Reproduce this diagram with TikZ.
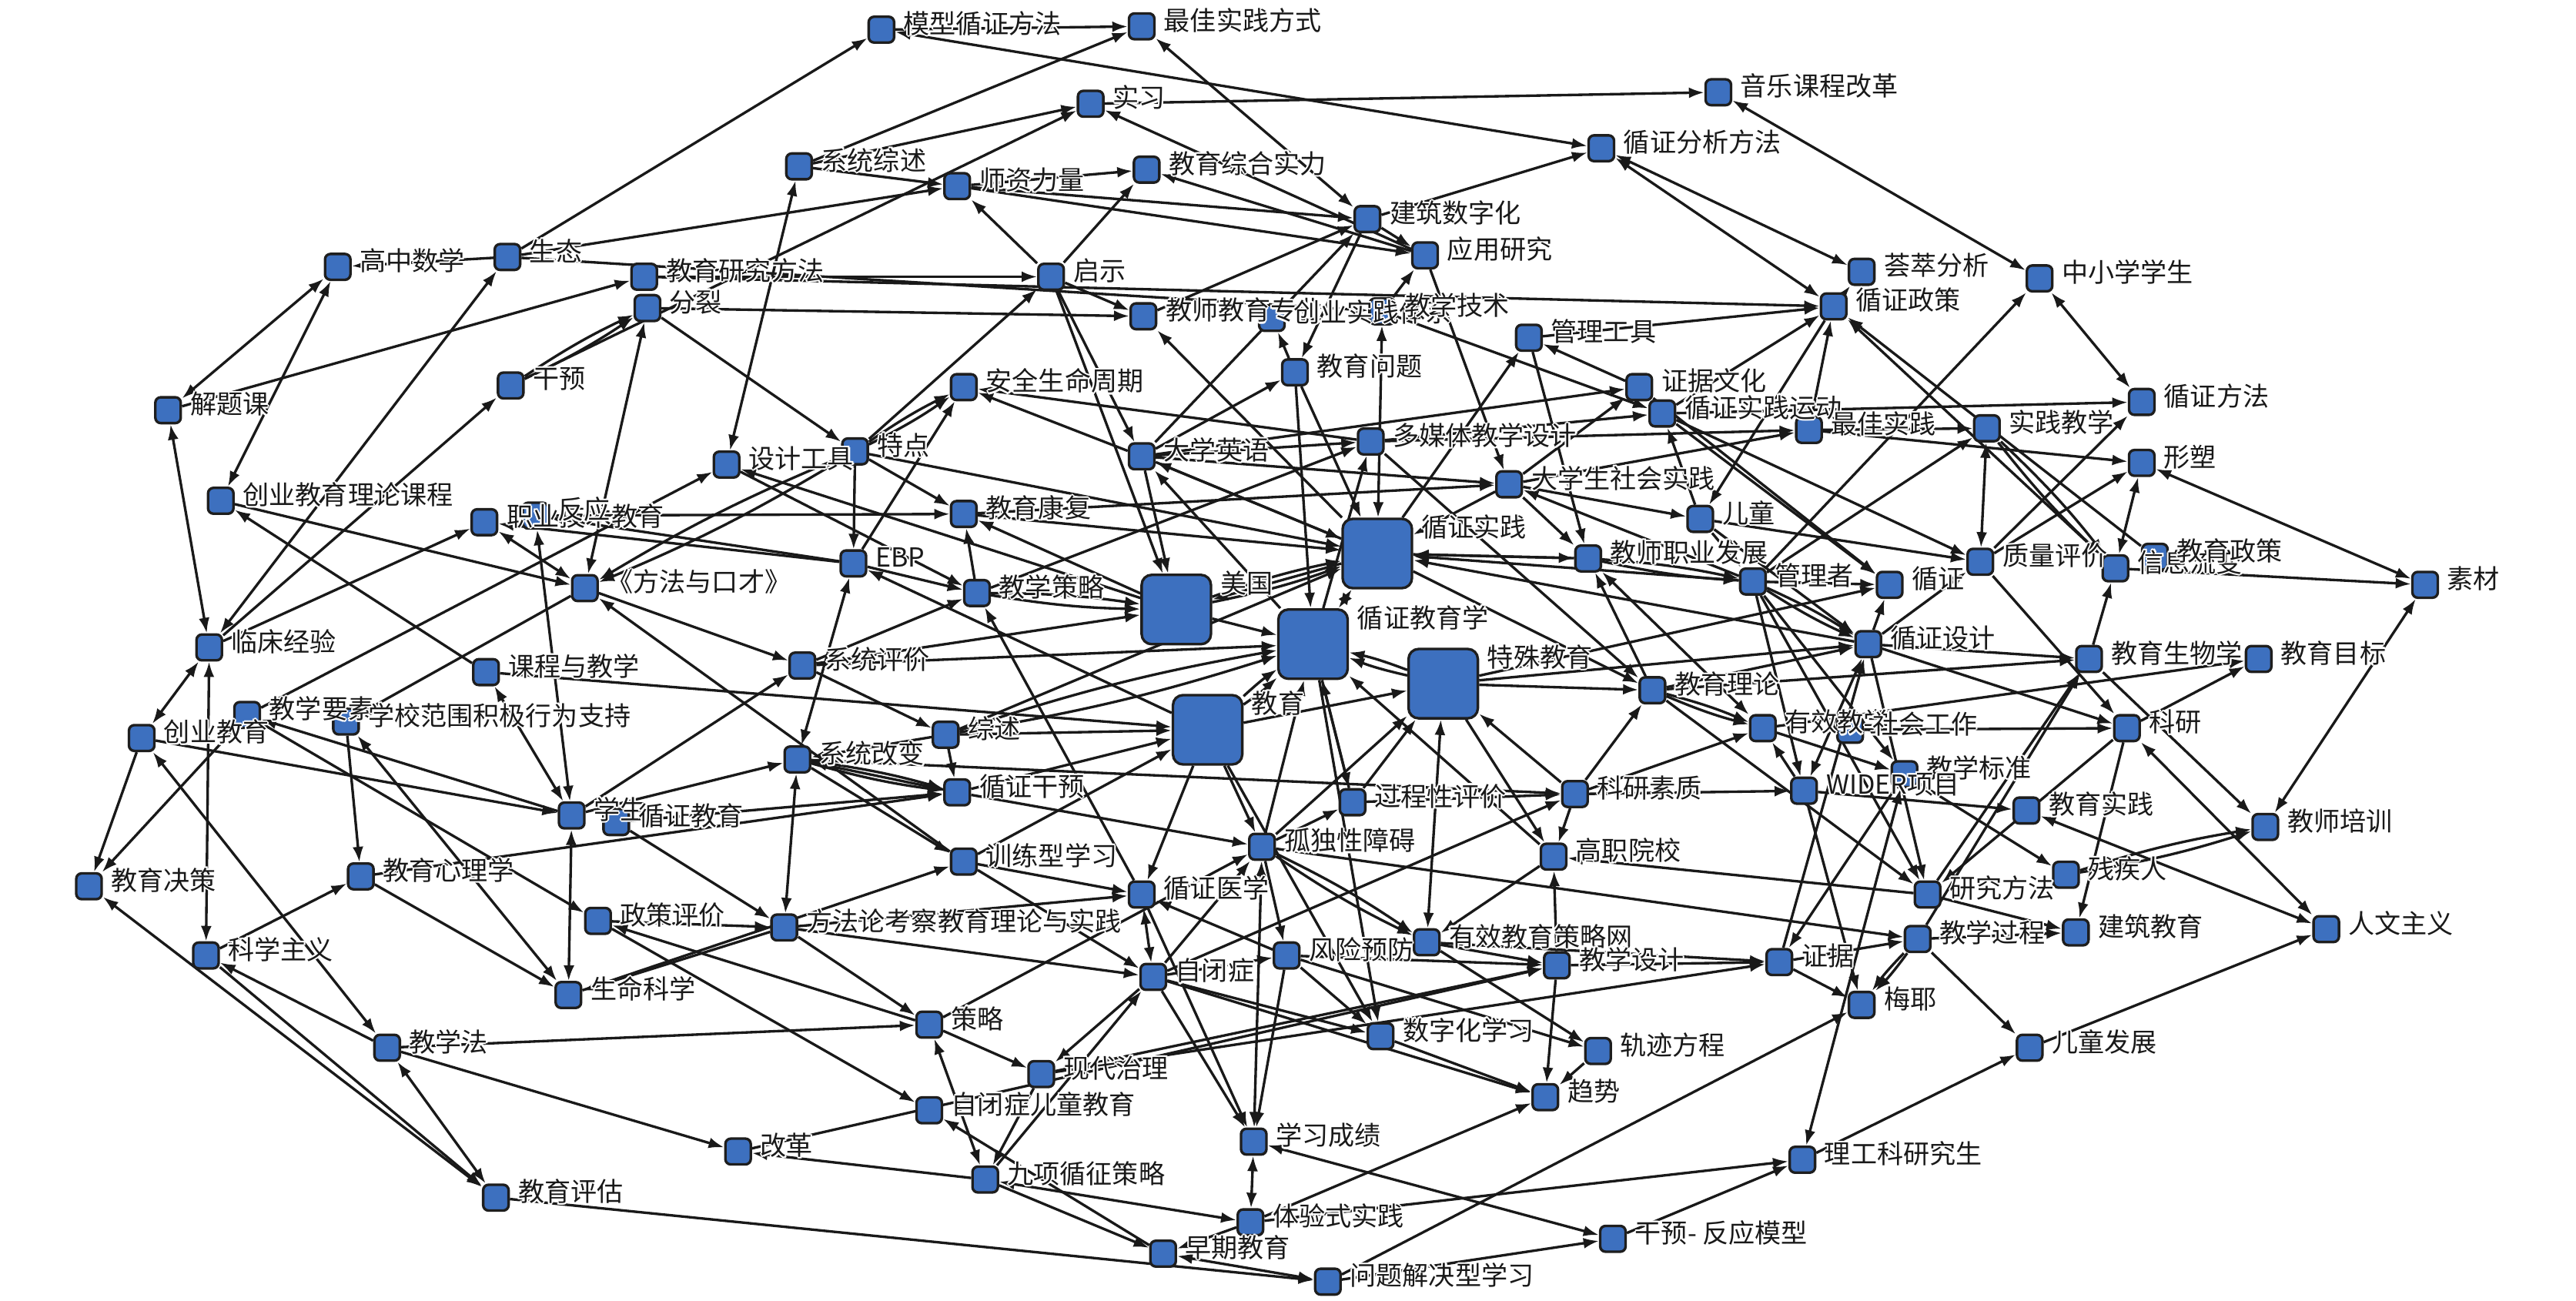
\documentclass[tikz,border=0pt]{standalone}
\usepackage{fontspec}
\setmainfont{Noto Sans CJK SC}
\usetikzlibrary{arrows.meta}
\pgfdeclarelayer{bg}\pgfdeclarelayer{fg}\pgfsetlayers{bg,main,fg}
\definecolor{nodeblue}{RGB}{61,112,191}
\definecolor{nodeedge}{RGB}{30,30,30}
\definecolor{edgec}{RGB}{25,25,25}
\newcommand\hc[3]{\rlap{\kern#1\raisebox{#2}{\textcolor{white}{#3}}}}
\newcommand\halo[1]{\hc{0.6pt}{0pt}{#1}\hc{-0.6pt}{0pt}{#1}\hc{0pt}{0.6pt}{#1}\hc{0pt}{-0.6pt}{#1}\hc{0.42pt}{0.42pt}{#1}\hc{-0.42pt}{0.42pt}{#1}\hc{0.42pt}{-0.42pt}{#1}\hc{-0.42pt}{-0.42pt}{#1}#1}
\tikzset{
 sn/.style={draw=nodeedge, fill=nodeblue, rounded corners=0.07cm, minimum width=0.33cm, minimum height=0.335cm, inner sep=0pt, line width=0.95pt},
 bn/.style={sn, minimum width=0.9cm, minimum height=0.9cm, rounded corners=0.13cm},
 lab/.style={anchor=west, inner sep=0pt, font=\fontsize{9.7pt}{10pt}\selectfont, text=black!90},
 e/.style={-{Latex[length=0.2cm,width=0.14cm]}, line width=0.95pt, draw=edgec},
 ee/.style={{Latex[length=0.2cm,width=0.14cm]}-{Latex[length=0.2cm,width=0.14cm]}, line width=0.95pt, draw=edgec},
}
\newcommand\mknode[4]{\node[sn] (#1) at (#2,#3) {};\begin{pgfonlayer}{fg}\node[lab] (#1-l) at ([xshift=0.1cm,yshift=0.08cm]#1.east) {\halo{#4}};\end{pgfonlayer}}
\newcommand\mkbig[4]{\node[bn] (#1) at (#2,#3) {};\begin{pgfonlayer}{fg}\node[lab] (#1-l) at ([xshift=0.1cm,yshift=-0.12cm]#1.north east) {\halo{#4}};\end{pgfonlayer}}
\newcommand\ed[2]{\draw[e] (#1) -- (#2);}
\newcommand\edd[2]{\draw[ee] (#1) -- (#2);}
\newcommand\edtwo[2]{\draw[e] (#1) to[bend left=4] (#2);\draw[e] (#1) to[bend right=4] (#2);}
\begin{document}
\begin{tikzpicture}[x=0.0214cm,y=-0.0214cm]
\useasboundingbox (0,0) rectangle (1563.6,789.3);
% big nodes
\mkbig{xzsj}{836}{336}{循证实践}
\mkbig{mg}{714}{370}{美国}
\mkbig{xzjyx}{797}{391}{循证教育学}
\mkbig{jy}{733}{443}{教育}
\mkbig{tsjy}{876}{415}{特殊教育}
% small nodes
\mknode{mxxz}{535}{18}{模型循证方法}
\mknode{zjsjfs}{693}{16}{最佳实践方式}
\mknode{sx}{662}{63}{实习}
\mknode{yyk}{1043}{56}{音乐课程改革}
\mknode{xtzs}{485}{101}{系统综述}
\mknode{szll}{581}{113}{师资力量}
\mknode{jyzh}{696}{103}{教育综合实力}
\mknode{xzfx}{972}{90}{循证分析方法}
\mknode{jzsz}{830}{133}{建筑数字化}
\mknode{yyyj}{865}{155}{应用研究}
\mknode{gzsx}{205}{162}{高中数学}
\mknode{st}{308}{156}{生态}
\mknode{jyyjff}{391}{168}{教育研究方法}
\mknode{fl}{393}{187}{分裂}
\mknode{qs}{638}{168}{启示}
\mknode{jsjy}{694}{192}{教师教育专业}
\mknode{cysj}{772}{193}{创业实践体系}
\mknode{jxjs}{839}{189}{教学技术}
\mknode{cfx}{1130}{165}{荟萃分析}
\mknode{zxxs}{1238}{169}{中小学学生}
\mknode{xzzc}{1113}{186}{循证政策}
\mknode{glgj}{928}{205}{管理工具}
\mknode{jywt}{786}{226}{教育问题}
\mknode{jtk}{102}{249}{解题课}
\mknode{gy}{310}{234}{干预}
\mknode{aqsm}{585}{235}{安全生命周期}
\mknode{zjwh}{995}{235}{证据文化}
\mknode{xzsjyd}{1009}{251}{循证实践运动}
\mknode{zjsj}{1098}{261}{最佳实践}
\mknode{sjjx}{1206}{260}{实践教学}
\mknode{xzff}{1300}{244}{循证方法}
\mknode{xs}{1300}{281}{形塑}
\mknode{cyjyll}{134}{304}{创业教育理论课程}
\mknode{sjgj}{441}{282}{设计工具}
\mknode{td}{519}{274}{特点}
\mknode{dxyy}{693}{277}{大学英语}
\mknode{dmt}{832}{268}{多媒体教学设计}
\mknode{dxsh}{916}{294}{大学生社会实践}
\mknode{et}{1032}{315}{儿童}
\mknode{zyjs}{294}{317}{职业技术教育}
\mknode{fy}{325}{313}{反应}
\mknode{jykf}{585}{312}{教育康复}
\mknode{ebp}{518}{342}{EBP}
\mknode{jszy}{964}{339}{教师职业发展}
\mknode{glz}{1064}{353}{管理者}
\mknode{xz}{1147}{355}{循证}
\mknode{zlpj}{1202}{341}{质量评价}
\mknode{xxlb}{1284}{345}{信息流变}
\mknode{jyzc}{1308}{338}{教育政策}
\mknode{sc}{1472}{355}{素材}
\mknode{ffyk}{355}{357}{《方法与口才》}
\mknode{jxcl}{593}{360}{教学策略}
\mknode{lcjy}{127}{393}{临床经验}
\mknode{xtpj}{487}{404}{系统评价}
\mknode{kcyjx}{295}{408}{课程与教学}
\mknode{jyll}{1003}{419}{教育理论}
\mknode{xzsj2}{1134}{391}{循证设计}
\mknode{jysw}{1268}{400}{教育生物学}
\mknode{jymb}{1371}{400}{教育目标}
\mknode{jxys}{150}{434}{教学要素}
\mknode{xxfw}{210}{438}{学校范围积极行为支持}
\mknode{cyjy}{86}{448}{创业教育}
\mknode{zs}{574}{446}{综述}
\mknode{yxjx}{1070}{442}{有效教学}
\mknode{shgz}{1123}{443}{社会工作}
\mknode{ky}{1291}{442}{科研}
\mknode{xtgb}{484}{461}{系统改变}
\mknode{jxbz}{1156}{470}{教学标准}
\mknode{wider}{1095}{480}{WIDER项目}
\mknode{xs2}{347}{495}{学生}
\mknode{xzjy}{374}{499}{循证教育}
\mknode{xzgy}{581}{481}{循证干预}
\mknode{kysz}{956}{482}{科研素质}
\mknode{gcxpj}{821}{487}{过程性评价}
\mknode{jysj}{1230}{492}{教育实践}
\mknode{jspx}{1375}{502}{教师培训}
\mknode{jyjc}{54}{538}{教育决策}
\mknode{jyxlx}{219}{532}{教育心理学}
\mknode{xlxx}{585}{523}{训练型学习}
\mknode{gdx}{766}{514}{孤独性障碍}
\mknode{gzyx}{943}{520}{高职院校}
\mknode{cjr}{1254}{531}{残疾人}
\mknode{yjff}{1170}{543}{研究方法}
\mknode{zcpj}{363}{559}{政策评价}
\mknode{fflks}{476}{563}{方法论考察教育理论与实践}
\mknode{xzyx}{693}{543}{循证医学}
\mknode{yxjycl}{866}{572}{有效教育策略网}
\mknode{fxyf}{781}{580}{风险预防}
\mknode{jxsj}{945}{586}{教学设计}
\mknode{zj}{1080}{584}{证据}
\mknode{jxgc}{1164}{570}{教学过程}
\mknode{jzjy}{1260}{566}{建筑教育}
\mknode{rwzy}{1412}{564}{人文主义}
\mknode{kxzy}{125}{580}{科学主义}
\mknode{smkx}{345}{604}{生命科学}
\mknode{zbz}{700}{593}{自闭症}
\mknode{my}{1130}{610}{梅耶}
\mknode{cl}{564}{622}{策略}
\mknode{szhxx}{838}{629}{数字化学习}
\mknode{gjfc}{970}{638}{轨迹方程}
\mknode{jxf}{235}{636}{教学法}
\mknode{xdzl}{632}{652}{现代治理}
\mknode{etfz}{1232}{636}{儿童发展}
\mknode{zbzet}{564}{674}{自闭症儿童教育}
\mknode{qs2}{938}{666}{趋势}
\mknode{xxcj}{761}{693}{学习成绩}
\mknode{gg}{448}{699}{改革}
\mknode{jxxz}{598}{716}{九项循征策略}
\mknode{lgk}{1094}{704}{理工科研究生}
\mknode{jypg}{301}{727}{教育评估}
\mknode{tys}{759}{742}{体验式实践}
\mknode{zqjy}{706}{761}{早期教育}
\mknode{gyfy}{979}{752}{干预- 反应模型}
\mknode{wtjj}{806}{778}{问题解决型学习}
\begin{pgfonlayer}{bg}
% single-headed
\ed{st}{mxxz}\ed{st}{szll}\ed{st}{gzsx}\ed{st}{jxjs}
\ed{jtk}{jyyjff}
\edtwo{gy}{fl}\ed{gy}{sx}\ed{lcjy}{gy}\ed{lcjy}{zyjs}
\ed{fl}{td}\ed{fl}{jsjy}
\ed{jyyjff}{qs}\ed{jyyjff}{xzzc}
\ed{xtzs}{zjsjfs}\ed{xtzs}{sx}\ed{xtzs}{szll}
\ed{cyjyll}{ffyk}\ed{kcyjx}{cyjyll}
\ed{jxys}{sjgj}\ed{ffyk}{xxfw}
\ed{fy}{jykf}\ed{ebp}{zyjs}\ed{ebp}{fy}
\ed{ffyk}{xtpj}\ed{xs2}{xtpj}\ed{xlxx}{ffyk}\ed{xtpj}{zs}\ed{kcyjx}{jy}
\ed{mg}{sjgj}\ed{sjgj}{jxcl}
\ed{td}{ebp}\ed{td}{xzsj}\edtwo{td}{aqsm}\ed{ebp}{aqsm}\ed{td}{jykf}\ed{td}{qs}
\edtwo{td}{ffyk}
\ed{dxyy}{aqsm}\ed{dmt}{aqsm}
\ed{qs}{dxyy}\ed{qs}{mg}\ed{qs}{jsjy}\ed{qs}{szll}\ed{qs}{jyzh}
\ed{xzsj}{jsjy}\ed{jsjy}{jzsz}
\ed{jywt}{cysj}\ed{jzsz}{jywt}\ed{jxjs}{yyyj}\ed{yyyj}{dxsh}
\ed{zjwh}{glgj}\ed{glgj}{xzzc}\ed{xzsj}{glgj}\ed{glgj}{jszy}
\ed{mxxz}{zjsjfs}\ed{sx}{yyk}\ed{yyyj}{sx}\ed{yyyj}{jyzh}
\ed{szll}{jyzh}\ed{szll}{yyyj}\ed{szll}{jzsz}
\ed{jzsz}{yyyj}\ed{jzsz}{xzfx}
\ed{xzzc}{cfx}\ed{xzsjyd}{xzzc}\ed{zjsj}{xzzc}\ed{jyzc}{xzzc}
\ed{glz}{zxxs}\ed{xzsjyd}{xzff}\ed{zlpj}{xzff}
\ed{zjsj}{sjjx}\ed{zjsj}{xs}\edtwo{sjjx}{xxlb}\ed{glz}{sjjx}\ed{zlpj}{xs}
\ed{xxlb}{sc}
\ed{jysw}{jspx}\ed{jysw}{xxlb}\ed{xzsj2}{jysw}\ed{ky}{jymb}\ed{jyll}{jysw}\ed{yxjx}{jymb}\ed{shgz}{ky}
\ed{ky}{jzjy}\ed{ky}{yjff}
\ed{wider}{jysj}\ed{jxbz}{cjr}\ed{yjff}{jzjy}\ed{jxgc}{jzjy}\ed{etfz}{rwzy}\ed{lgk}{etfz}\ed{jxgc}{etfz}
\edtwo{jxgc}{my}\ed{zj}{my}\ed{wtjj}{my}
\ed{tys}{lgk}\ed{gyfy}{lgk}
\ed{jxsj}{zj}\ed{yxjycl}{zj}\ed{zj}{jxgc}\ed{zj}{xzsj2}
\ed{jxgc}{jysw}\ed{yjff}{jysw}
\ed{xzsj2}{yjff}\ed{jyll}{yjff}\ed{glz}{yjff}
\ed{dxyy}{zjwh}\ed{dmt}{xzsjyd}\ed{dmt}{zjsj}\ed{dxsh}{zjwh}
\ed{et}{xzsjyd}\ed{xzzc}{et}\ed{dxsh}{zjsj}
\ed{xzsjyd}{zlpj}\ed{xzsjyd}{xz}\ed{zjwh}{xz}
\ed{dxsh}{et}\ed{dxsh}{jszy}\ed{glz}{dxsh}
\edtwo{jszy}{glz}\ed{et}{glz}\ed{et}{zlpj}\ed{et}{xzsj2}
\ed{glz}{xz}\edtwo{glz}{xzsj2}\ed{glz}{jxbz}\ed{glz}{wider}
\ed{xzsj2}{xz}\ed{tsjy}{xz}\ed{xzsj2}{zlpj}\ed{zlpj}{ky}\ed{xzsj2}{ky}
\ed{tsjy}{xzsj2}\ed{jyll}{xzsj2}
\edtwo{jyll}{yxjx}\ed{tsjy}{jyll}\ed{xzsj}{jyll}\ed{jyll}{jszy}
\ed{kysz}{wider}\ed{kysz}{jyll}\ed{wider}{yxjx}\ed{kysz}{yxjx}\ed{yxjx}{jxbz}
\ed{xzsj}{dxyy}\ed{xzjyx}{dxyy}\ed{dxyy}{xzsj}\ed{dxyy}{dmt}\ed{dxyy}{mg}\ed{dxyy}{jywt}\ed{dxyy}{dxsh}
\ed{jywt}{xzsj}\ed{jywt}{xzjyx}\ed{xzjyx}{dmt}\ed{dmt}{jyll}
\ed{mg}{jykf}\ed{jykf}{xzsj}\ed{jxcl}{jykf}\ed{jykf}{dxsh}
\ed{ebp}{jxcl}\ed{jy}{ebp}
\edtwo{jxcl}{mg}\ed{xtpj}{jxcl}\ed{xzyx}{jxcl}\ed{jxcl}{dmt}
\ed{xtpj}{xzjyx}\ed{mg}{xzjyx}\edtwo{mg}{xzsj}\ed{xzsj}{mg}
\ed{zs}{jy}\edtwo{zs}{xzjyx}\ed{zs}{xzsj}
\ed{jy}{tsjy}\ed{xzgy}{jy}\edtwo{jy}{xzjyx}
\edtwo{tsjy}{xzjyx}\ed{gcxpj}{xzjyx}\ed{gzyx}{xzjyx}
\ed{gcxpj}{tsjy}\ed{gdx}{tsjy}\ed{kysz}{tsjy}
\ed{jy}{xzyx}\ed{jy}{gdx}\ed{jy}{szhxx}
\ed{xlxx}{jy}
\ed{gdx}{xzjyx}\ed{xzjyx}{gcxpj}\ed{gcxpj}{kysz}\ed{gdx}{gcxpj}
\ed{xtgb}{kysz}\ed{zbz}{kysz}
\ed{kysz}{gzyx}\ed{tsjy}{gzyx}\ed{gzyx}{yxjycl}\ed{jxsj}{gzyx}\ed{yjff}{gzyx}
\edtwo{gdx}{yxjycl}\ed{yxjycl}{jxsj}
\ed{fxyf}{xzyx}\ed{zbz}{fxyf}\ed{gdx}{fxyf}\ed{fxyf}{szhxx}\ed{fxyf}{jxsj}\ed{fxyf}{gjfc}\ed{fxyf}{xxcj}
\ed{zbz}{szhxx}\ed{szhxx}{qs2}\ed{xzjyx}{szhxx}
\ed{yxjycl}{gjfc}\ed{gjfc}{qs2}\ed{jxsj}{qs2}\ed{tys}{qs2}\ed{zbz}{qs2}
\ed{xdzl}{jxsj}\ed{gg}{jxsj}\ed{xdzl}{zj}
\ed{zbz}{xxcj}\ed{xzyx}{xxcj}
\ed{xlxx}{zbz}\ed{fflks}{zbz}\ed{zbz}{xdzl}\ed{jxxz}{zbz}\ed{zbz}{gdx}
\ed{xlxx}{xzyx}\ed{fflks}{xzyx}
\ed{xzgy}{gdx}\ed{zs}{xzgy}\edtwo{xtgb}{xzgy}\ed{xzjy}{xzgy}\ed{jyxlx}{xzgy}
\ed{xtgb}{xlxx}\ed{gdx}{jxgc}
\ed{smkx}{xlxx}
\ed{xzjy}{fflks}\ed{zcpj}{fflks}
\ed{fflks}{smkx}\ed{jyxlx}{smkx}
\ed{cl}{zcpj}\ed{jxys}{zcpj}\ed{zcpj}{zbzet}
\ed{fflks}{cl}\ed{jxf}{cl}\ed{cl}{xdzl}\ed{cl}{gdx}
\ed{zqjy}{zbzet}\ed{xdzl}{jxxz}\ed{jxxz}{zqjy}\ed{tys}{zqjy}
\ed{jypg}{wtjj}\ed{wtjj}{gyfy}
\ed{xs2}{xtgb}\ed{zs}{xtgb}\ed{xzgy}{xtgb}
\ed{xtpj}{mg}
\ed{xxfw}{jyxlx}\ed{jxys}{jyjc}\ed{cyjy}{jyjc}\ed{cyjy}{xs2}\ed{xs2}{jxys}
\ed{kxzy}{jyxlx}\ed{jxf}{kxzy}\ed{kxzy}{jypg}
\ed{jxf}{gg}\ed{jxxz}{gg}
\ed{jxjs}{xzsjyd}\ed{dxyy}{jzsz}
\ed{jszy}{xzsj}\ed{dxsh}{xzsj}\ed{glz}{xzsj}\ed{xzsj2}{xzsj}\ed{xzsj}{jszy}
\ed{wider}{my}\ed{jxbz}{zj}
\edtwo{cjr}{jspx}
% double-headed
\edd{mxxz}{xzfx}\edd{zjsjfs}{jzsz}\edd{xtzs}{sjgj}\edd{jtk}{gzsx}\edd{gzsx}{cyjyll}\edd{st}{lcjy}\edd{jtk}{lcjy}
\edd{fl}{ffyk}\edd{fy}{xs2}\edd{zyjs}{ffyk}\edd{xtgb}{ebp}\edd{kcyjx}{xs2}
\edd{xzfx}{cfx}\edd{xzzc}{xzfx}\edd{yyk}{zxxs}\edd{zxxs}{xzff}
\edd{sjjx}{zlpj}\edd{xs}{xxlb}\edd{xs}{sc}\edd{sc}{jspx}\edd{ky}{rwzy}\edd{jysj}{rwzy}
\edd{jxbz}{lgk}
\edd{lcjy}{cyjy}\edd{lcjy}{kxzy}\edd{cyjy}{jxf}\edd{jyjc}{jypg}\edd{jxf}{jypg}
\edd{xxfw}{smkx}\edd{smkx}{xs2}
\edd{xzsj}{xzjyx}\edd{yxjycl}{tsjy}\edd{zbz}{xzyx}\edd{gdx}{xxcj}\edd{xxcj}{tys}\edd{xxcj}{gyfy}
\edd{cl}{jxxz}\edd{jxxz}{tys}\edd{zqjy}{wtjj}
\edd{jxjs}{xzsj}\edd{fflks}{xtgb}\edd{jszy}{yxjx}\edd{xzsj2}{wider}\edd{xzzc}{xxlb}
\end{pgfonlayer}
\end{tikzpicture}
\end{document}
